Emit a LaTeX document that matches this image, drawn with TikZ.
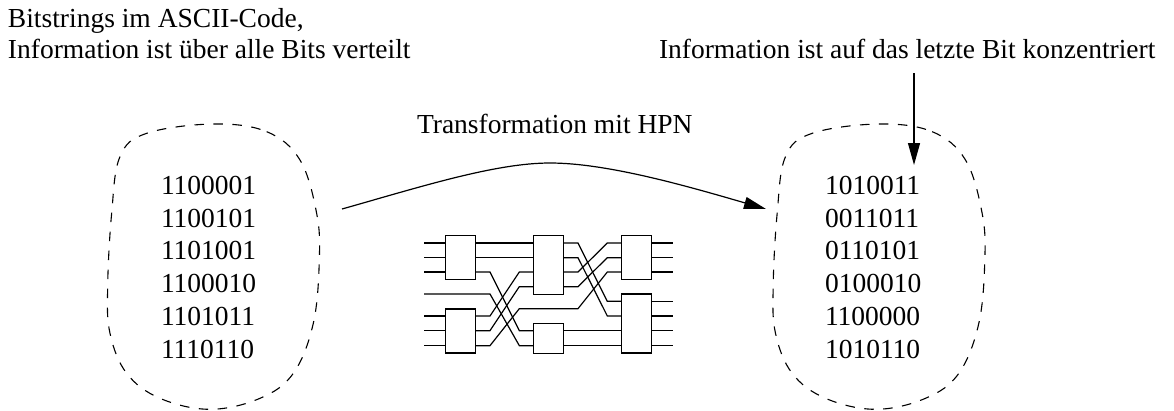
\documentclass[tikz,border=0pt]{standalone}
\usepackage{fontspec}
\setmainfont{Liberation Serif}
\usetikzlibrary{arrows.meta}
\tikzset{
  txt/.style={inner sep=0pt,outer sep=0pt,anchor=base west,font=\fontsize{27.5}{33}\selectfont},
  bits/.style={inner sep=0pt,outer sep=0pt,anchor=north west,align=left,font=\fontsize{27.5}{32.8}\selectfont},
  ln/.style={line width=1.2pt,line join=miter},
  wire/.style={line width=1.2pt,line join=miter},
  blob/.style={line width=1.1pt,dash pattern=on 9.5pt off 9.5pt},
  tip/.style={-{Triangle[length=22pt,width=12pt]}},
  swbox/.style={draw,rectangle,line width=1.3pt,fill=white,inner sep=0pt,outer sep=0pt,minimum width=30pt},
  small box/.style={swbox,minimum height=44pt},
  medium box/.style={swbox,minimum height=30pt},
  tall box/.style={swbox,minimum height=59pt},
}
\newcommand{\blobshape}{plot[smooth cycle,tension=0.62] coordinates {(460,72)(620,95)(720,180)(770,340)(778,480)(760,670)(700,820)(600,895)(450,928)(300,895)(200,820)(150,700)(143,560)(155,340)(180,170)(260,100)}}
\begin{document}
\begin{tikzpicture}[x=1pt,y=-1pt]
\useasboundingbox (0,0) rectangle (1174,410);
\node[txt] (t1) at (8,27) {Bitstrings im ASCII-Code,};
\node[txt] (t2) at (8,58) {Information ist über alle Bits verteilt};
\node[txt] (t3) at (659,58) {Information ist auf das letzte Bit konzentriert};
\node[txt] (t4) at (417,133) {Transformation mit HPN};
\begin{scope}[shift={(60,100)},x=0.3333pt,y=-0.3333pt]
\draw[blob] \blobshape;
\end{scope}
\begin{scope}[shift={(725.5,100)},x=0.3333pt,y=-0.3333pt]
\draw[blob] \blobshape;
\end{scope}
\node[bits] (lbits) at (161,176) {1100001\\1100101\\1101001\\1100010\\1101011\\1110110};
\node[bits] (rbits) at (825,176) {1010011\\0011011\\0110101\\0100010\\1100000\\1010110};
\coordinate (as) at (342,209);
\coordinate (am) at (550,163);
\coordinate (ae) at (766,209);
\draw[ln,tip] (as) .. controls (420,187) and (495,163) .. (am) .. controls (608,163) and (690,187) .. (ae);
\coordinate (vs) at (914,73);
\coordinate (ve) at (914,165);
\draw[ln,tip] (vs) -- (ve);
\begin{scope}[shift={(400,220)},x=0.3333pt,y=-0.3333pt]
\node[small box] (A) at (182,112) {};
\node[small box] (B) at (182,333) {};
\node[tall box] (C) at (446,134) {};
\node[medium box] (D) at (446,354.5) {};
\node[small box] (E) at (710.5,112) {};
\node[tall box] (F) at (710.5,310.5) {};
\foreach \y in {69,113,156}{\draw[wire] (72,\y) -- (A.west |- 0,\y);}
\foreach \y in {288,332,377}{\draw[wire] (72,\y) -- (B.west |- 0,\y);}
\draw[wire] (A.east |- 0,69) -- (C.west |- 0,69);
\draw[wire] (A.east |- 0,113) -- (C.west |- 0,113);
\draw[wire] (A.east |- 0,156) -- (270,156) -- (358,332) -- (D.west |- 0,332);
\draw[wire] (72,222) -- (270,222) -- (358,377) -- (D.west |- 0,377);
\draw[wire] (B.east |- 0,288) -- (270,288) -- (358,156) -- (C.west |- 0,156);
\draw[wire] (B.east |- 0,332) -- (270,332) -- (358,200) -- (C.west |- 0,200);
\draw[wire] (B.east |- 0,377) -- (270,377) -- (358,266) -- (534,266) -- (622,156) -- (E.west |- 0,156);
\draw[wire] (C.east |- 0,69) -- (534,69) -- (622,244) -- (F.west |- 0,244);
\draw[wire] (C.east |- 0,113) -- (534,113) -- (622,288) -- (F.west |- 0,288);
\draw[wire] (C.east |- 0,156) -- (534,156) -- (622,69) -- (E.west |- 0,69);
\draw[wire] (C.east |- 0,200) -- (534,200) -- (622,113) -- (E.west |- 0,113);
\draw[wire] (D.east |- 0,332) -- (F.west |- 0,332);
\draw[wire] (D.east |- 0,377) -- (F.west |- 0,377);
\foreach \y in {69,113,156}{\draw[wire] (E.east |- 0,\y) -- (820,\y);}
\foreach \y in {244,288,332,377}{\draw[wire] (F.east |- 0,\y) -- (820,\y);}
\end{scope}
\end{tikzpicture}
\end{document}
